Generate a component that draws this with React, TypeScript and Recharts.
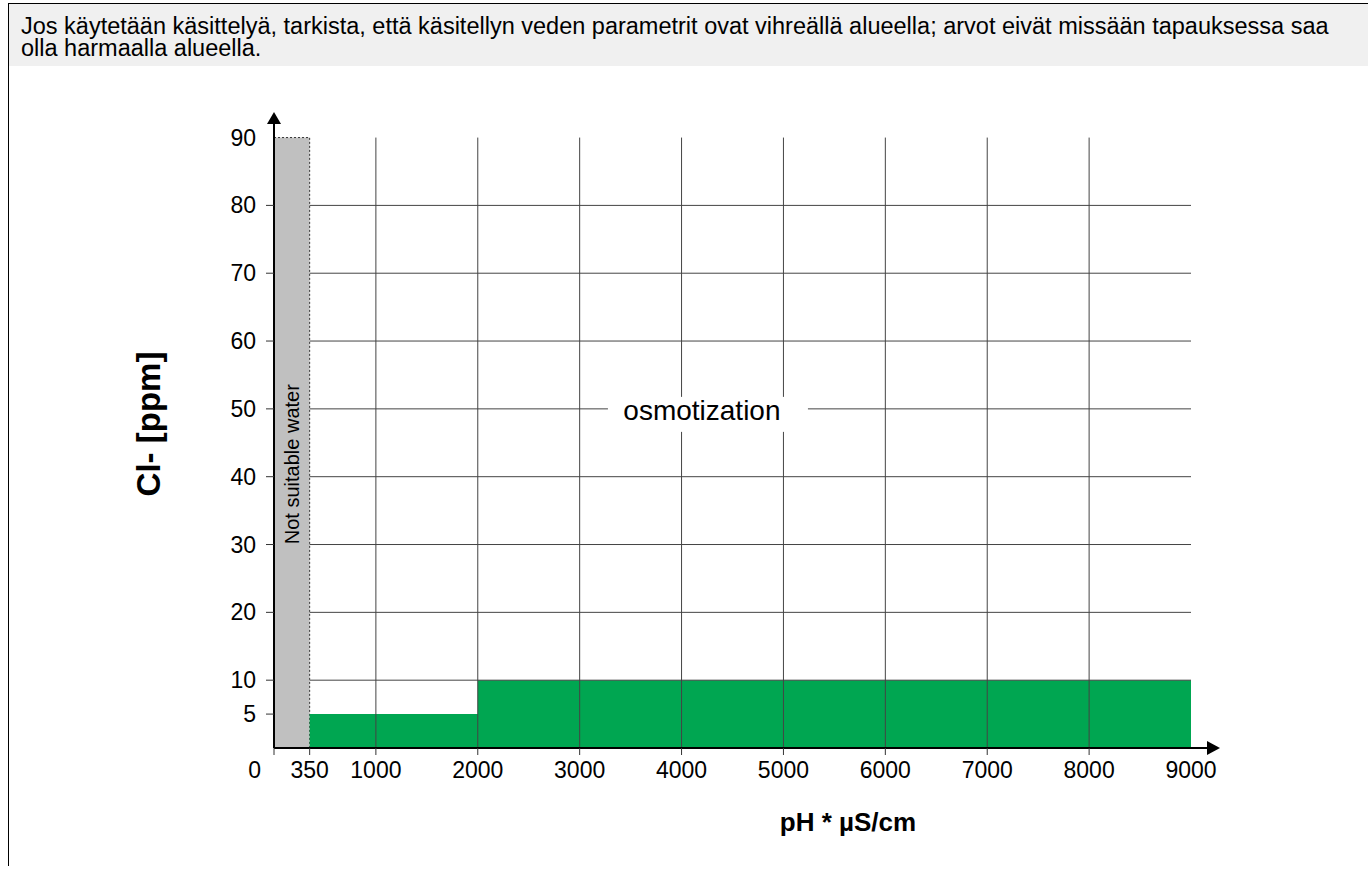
import React from "react";
import {
  ComposedChart,
  Area,
  XAxis,
  YAxis,
  ReferenceArea,
  ReferenceLine,
  ReferenceDot,
} from "recharts";

// tick labels of both axes
const conductivityTicks = [0, 350, 1000, 2000, 3000, 4000, 5000, 6000, 7000, 8000, 9000];
const chlorideTicks = [0, 5, 10, 20, 30, 40, 50, 60, 70, 80, 90];

// grid lines
const gridConductivity = [1000, 2000, 3000, 4000, 5000, 6000, 7000, 8000];
const gridChloride = [10, 20, 30, 40, 50, 60, 70, 80];

// green (allowed) zone, step limits
const limitConductivity = [350, 2000, 9000];
const limitChloride = [5, 10, 10];

// not suitable water band
const unsuitableMax = 350;
const chlorideTop = 90;

// axis ends (arrows)
const xMax = 9157;
const yMax = 92;

// osmotization label anchor
const osmoLabel = { x: 4200, y: 50 };

const stepData = limitConductivity.map((x, i) => ({ x, cl: limitChloride[i] }));

const FONT = "Arial, 'Liberation Sans', sans-serif";

const XTick = (props: any) => {
  const { x, y, payload } = props;
  const v = payload.value;
  return (
    <g>
      {v !== 9000 && <line x1={x} x2={x} y1={y} y2={y + 7} stroke="#333" />}
      {v !== 0 && (
        <text x={x} y={y + 30} textAnchor="middle" fontSize={23} fontFamily={FONT} fill="#000">
          {v}
        </text>
      )}
    </g>
  );
};

const YTick = (props: any) => {
  const { x, y, payload } = props;
  const v = payload.value;
  if (v === 0) {
    return (
      <text x={x - 13} y={y + 30} textAnchor="end" fontSize={23} fontFamily={FONT} fill="#000">
        0
      </text>
    );
  }
  return (
    <g>
      {v !== 90 && <line x1={x - 8} x2={x} y1={y} y2={y} stroke="#333" />}
      <text x={x - 18} y={y + 8} textAnchor="end" fontSize={23} fontFamily={FONT} fill="#000">
        {v}
      </text>
    </g>
  );
};

export default function App() {
  return (
    <div
      style={{
        position: "absolute",
        left: 8,
        top: 3,
        width: 1360,
        height: 862,
        borderTop: "1px solid #000",
        borderLeft: "1px solid #000",
        fontFamily: FONT,
      }}
    >
      <div
        style={{
          background: "#f0f0f0",
          height: 62,
          boxSizing: "border-box",
          padding: "11px 14px 0 12px",
          fontSize: 23.5,
          lineHeight: "22px",
          color: "#000",
        }}
      >
        Jos käytetään käsittelyä, tarkista, että käsitellyn veden parametrit ovat vihreällä alueella; arvot
        eivät missään tapauksessa saa olla harmaalla alueella.
      </div>

      <div style={{ position: "absolute", left: -1, top: 66 }}>
        <ComposedChart
          width={1360}
          height={795}
          data={stepData}
          margin={{ top: 54, right: 161, bottom: 87, left: 206 }}
        >
          <XAxis
            dataKey="x"
            type="number"
            domain={[0, xMax]}
            ticks={conductivityTicks}
            interval={0}
            height={30}
            tickSize={0}
            tickMargin={0}
            tickLine={false}
            axisLine={{ stroke: "#000", strokeWidth: 2 }}
            tick={<XTick />}
            label={(p: any) => (
              <text
                x={p.viewBox.x + 574}
                y={p.viewBox.y + 83}
                textAnchor="middle"
                fontSize={26}
                fontWeight="bold"
                fontFamily={FONT}
                fill="#000"
              >
                pH * µS/cm
              </text>
            )}
          />
          <YAxis
            type="number"
            domain={[0, yMax]}
            ticks={chlorideTicks}
            interval={0}
            width={60}
            tickSize={0}
            tickMargin={0}
            tickLine={false}
            axisLine={{ stroke: "#000", strokeWidth: 2 }}
            tick={<YTick />}
            label={(p: any) => {
              const cx = p.viewBox.x - 66;
              const cy = p.viewBox.y + p.viewBox.height / 2 - 12;
              return (
                <text
                  x={cx}
                  y={cy}
                  transform={`rotate(-90 ${cx} ${cy})`}
                  textAnchor="middle"
                  dominantBaseline="central"
                  fontSize={33}
                  fontWeight="bold"
                  fontFamily={FONT}
                  fill="#000"
                >
                  Cl- [ppm]
                </text>
              );
            }}
          />

          {/* vertical grid */}
          {gridConductivity.map((v) => (
            <ReferenceLine
              key={"gx" + v}
              segment={[
                { x: v, y: 0 },
                { x: v, y: chlorideTop },
              ]}
              stroke="#444"
              strokeWidth={1}
            />
          ))}

          {/* not suitable water */}
          <ReferenceArea
            x1={0}
            x2={unsuitableMax}
            y1={0}
            y2={chlorideTop}
            fill="#c0c0c0"
            fillOpacity={1}
            stroke="#333"
            strokeDasharray="2 2"
            label={(p: any) => {
              const cx = p.viewBox.x + p.viewBox.width / 2;
              const cy = p.viewBox.y + p.viewBox.height * 0.535;
              return (
                <text
                  x={cx}
                  y={cy}
                  transform={`rotate(-90 ${cx} ${cy})`}
                  textAnchor="middle"
                  dominantBaseline="central"
                  fontSize={20}
                  fontFamily={FONT}
                  fill="#000"
                >
                  Not suitable water
                </text>
              );
            }}
          />

          {/* allowed zone */}
          <Area
            type="stepAfter"
            dataKey="cl"
            stroke="none"
            fill="#00a651"
            fillOpacity={1}
            isAnimationActive={false}
            dot={false}
            activeDot={false}
          />

          {/* horizontal grid */}
          {gridChloride.map((v) => (
            <ReferenceLine
              key={"gy" + v}
              segment={[
                { x: unsuitableMax, y: v },
                { x: 9000, y: v },
              ]}
              stroke="#444"
              strokeWidth={1}
            />
          ))}

          <ReferenceDot
            x={osmoLabel.x}
            y={osmoLabel.y}
            ifOverflow="visible"
            shape={(p: any) => (
              <g>
                <rect x={p.cx - 94} y={p.cy - 12} width={200} height={35} fill="#fff" />
                <text
                  x={p.cx}
                  y={p.cy + 11}
                  textAnchor="middle"
                  fontSize={28}
                  fontFamily={FONT}
                  fill="#000"
                >
                  osmotization
                </text>
              </g>
            )}
          />

          {/* axis arrows */}
          <ReferenceDot
            x={xMax}
            y={0}
            ifOverflow="visible"
            shape={(p: any) => (
              <polygon
                points={`${p.cx},${p.cy - 7} ${p.cx + 13},${p.cy} ${p.cx},${p.cy + 7}`}
                fill="#000"
              />
            )}
          />
          <ReferenceDot
            x={0}
            y={yMax}
            ifOverflow="visible"
            shape={(p: any) => (
              <polygon
                points={`${p.cx - 7},${p.cy} ${p.cx},${p.cy - 12} ${p.cx + 7},${p.cy}`}
                fill="#000"
              />
            )}
          />
        </ComposedChart>
      </div>
    </div>
  );
}
